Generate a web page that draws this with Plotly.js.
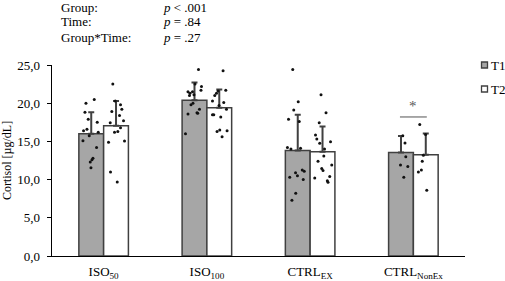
<!DOCTYPE html>
<html>
<head>
<meta charset="utf-8">
<script src="https://cdn.plot.ly/plotly-3.0.1.min.js"></script>
<style>html,body{margin:0;padding:0;background:#fff}#chart{width:505px;height:281px}</style>
</head>
<body>
<div id="chart"></div>
<script>
// ---- data ----
const categories = ['ISO<sub>50</sub>', 'ISO<sub>100</sub>', 'CTRL<sub>EX</sub>', 'CTRL<sub>NonEx</sub>'];
const seriesNames = ['T1', 'T2'];
const meanT1 = [16.0, 20.4, 13.8, 13.55];
const meanT2 = [17.05, 19.4, 13.65, 13.25];
const sdT1 = [2.8, 2.3, 4.7, 2.15];
const sdT2 = [3.25, 2.4, 3.3, 2.8];

// individual participant values
const ptsT1 = [
  [20.0, 20.5, 18.8, 17.9, 17.5, 16.6, 16.4, 15.75, 16.2, 15.1, 14.2, 12.8, 12.6, 12.3, 11.55],
  [24.4, 22.5, 22.2, 21.7, 21.5, 21.3, 21.5, 21.0, 21.1, 20.0, 19.8, 19.2, 18.75, 18.6, 18.7, 16.0],
  [24.4, 20.2, 19.1, 17.9, 17.6, 14.2, 14.0, 14.1, 11.25, 11.1, 10.9, 10.5, 10.3, 10.0, 8.2, 7.3],
  [15.75, 14.8, 13.0, 11.9, 11.7, 10.3]
];
const ptsT2 = [
  [22.5, 20.3, 19.8, 19.2, 18.9, 18.4, 17.7, 17.45, 16.8, 16.3, 16.2, 14.9, 15.05, 11.0, 9.7],
  [24.25, 21.7, 21.6, 21.3, 21.0, 20.3, 20.1, 19.7, 19.2, 18.5, 18.5, 18.2, 16.3, 16.5, 16.4, 15.6],
  [21.1, 18.75, 17.45, 15.85, 15.3, 14.95, 14.75, 14.0, 13.1, 12.4, 11.9, 11.45, 11.2, 10.2, 10.4, 9.85, 9.65],
  [17.2, 15.9, 13.2, 12.4, 11.25, 11.0, 8.6]
];

// horizontal jitter of the dots (px from bar centre) - layout only
const jitT1 = [
  [-5.3, 3, -6.3, -3, 6, -4.3, -7.7, -2, 7, -8.3, 5.3, 1.7, 0.7, -1, -0.3],
  [4, 0.5, 7, 6.5, -6.5, -4.5, -2, -5, -0.5, -1.5, -3.5, 5, 2.5, -6.5, 3.2, -9],
  [-5, 0.5, -4, -9.2, 1.5, -10.3, -6.8, 2.8, 4.5, 6.5, -2.2, -0.3, -8, 5.5, -2, -5.8],
  [1.8, 4, 4.8, -0.5, 6.8, 2.8]
];
const jitT2 = [
  [-3.2, -0.8, 4.5, 5.8, -4.2, 3.5, 7.5, -5.8, 4.5, 1.8, -1.5, -7.5, 8.5, -5.5, 1.2],
  [3.8, 6.5, -1.2, -2.8, -4.5, -6.8, 4.5, -0.2, 7.2, -6.8, -5.5, 1.5, -2.2, 0.5, 7.8, 2.8],
  [-1.5, 3.5, -3.3, -7, -5.7, 8, -2.8, 2, 1.3, -4.5, 9.2, -0.8, 0.5, -7.8, 7.2, 4.8, 5.5],
  [-6, -0.2, -2.4, -3.5, -4.4, -7.4, 1]
];

const statLabels = ['Group:', 'Time:', 'Group*Time:'];
const statValues = ['<i>p</i> &lt; .001', '<i>p</i> = .84', '<i>p</i> = .27'];

// ---- geometry ----
const W = 505, H = 281;
const M = {l: 52, r: 40, t: 65, b: 25};
const plotW = W - M.l - M.r, plotH = H - M.t - M.b;
const catPx = plotW / categories.length;
const px2x = px => (px - M.l) / plotW;
const px2y = py => (H - M.b - py) / plotH;
const idx = categories.map((_, i) => i);
const FONT = 'Liberation Serif, Times New Roman, serif';

function dots(pts, jit, side) {
  const x = [], y = [];
  pts.forEach((arr, g) => arr.forEach((v, k) => {
    x.push(g + side * 0.12 + jit[g][k] / catPx);
    y.push(v);
  }));
  return {type: 'scatter', mode: 'markers', x, y, showlegend: false, hoverinfo: 'y',
    marker: {color: '#111', size: 3}};
}

const errStyle = {type: 'data', symmetric: false, color: '#404040', thickness: 2, width: 3};
const traces = [
  {type: 'bar', name: seriesNames[0], x: idx, y: meanT1, showlegend: false,
   marker: {color: '#a6a6a6', line: {color: '#404040', width: 1.5}},
   error_y: Object.assign({array: sdT1, arrayminus: sdT1.map(() => 0)}, errStyle)},
  {type: 'bar', name: seriesNames[1], x: idx, y: meanT2, showlegend: false,
   marker: {color: '#ffffff', line: {color: '#404040', width: 1.5}},
   error_y: Object.assign({array: sdT2, arrayminus: sdT2.map(() => 0)}, errStyle)},
  dots(ptsT1, jitT1, -1),
  dots(ptsT2, jitT2, 1)
];

const annotations = [];
const statY = [7, 22, 37];
statLabels.forEach((t, i) => {
  annotations.push({xref: 'paper', yref: 'paper', x: px2x(59), y: px2y(statY[i]), text: t,
    showarrow: false, xanchor: 'left', yanchor: 'middle', font: {family: FONT, size: 13, color: '#000'}});
  annotations.push({xref: 'paper', yref: 'paper', x: px2x(161), y: px2y(statY[i]), text: statValues[i],
    showarrow: false, xanchor: 'left', yanchor: 'middle', font: {family: FONT, size: 13, color: '#000'}});
});
// significance asterisk
annotations.push({xref: 'x', yref: 'y', x: 3, y: 19.6, text: '*', showarrow: false,
  xanchor: 'center', yanchor: 'middle', font: {family: FONT, size: 15, color: '#595959'}});
// manual legend text
const legY = [65, 89];
seriesNames.forEach((n, i) => {
  annotations.push({xref: 'paper', yref: 'paper', x: px2x(489), y: px2y(legY[i]), text: n,
    showarrow: false, xanchor: 'left', yanchor: 'middle', font: {family: FONT, size: 13, color: '#000'}});
});

const shapes = [
  {type: 'line', xref: 'x', yref: 'y', x0: 3 - 0.13, x1: 3 + 0.13, y0: 18.2, y1: 18.2,
   line: {color: '#8c8c8c', width: 1.5}}
];
const legFill = ['#a6a6a6', '#ffffff'];
legY.forEach((yy, i) => {
  shapes.push({type: 'rect', xref: 'paper', yref: 'paper',
    x0: px2x(481.5), x1: px2x(487.5), y0: px2y(yy + 3), y1: px2y(yy - 3),
    fillcolor: legFill[i], line: {color: '#404040', width: 1.3}});
});

const layout = {
  width: W, height: H, margin: M,
  paper_bgcolor: '#fff', plot_bgcolor: '#fff',
  font: {family: FONT, size: 12, color: '#000'},
  separators: ', ',
  barmode: 'group', bargap: 0.52, bargroupgap: 0,
  showlegend: false,
  xaxis: {
    range: [-0.5, categories.length - 0.5], tickmode: 'array', tickvals: idx, ticktext: categories,
    showline: true, linecolor: '#000', linewidth: 1.3, ticks: '', showgrid: false, zeroline: false,
    ticklabelstandoff: 3,
    tickfont: {family: FONT, size: 13}, automargin: false, fixedrange: true
  },
  yaxis: {
    range: [0, 25], tickmode: 'linear', tick0: 0, dtick: 5, tickformat: '.1f',
    showline: true, linecolor: '#000', linewidth: 1.3, ticks: 'outside', ticklen: 4, tickcolor: '#000',
    showgrid: false, zeroline: false, ticklabelstandoff: 4,
    tickfont: {family: FONT, size: 13},
    title: {text: 'Cortisol [µg/dL]', font: {family: FONT, size: 12}, standoff: 5},
    automargin: false, fixedrange: true
  },
  annotations, shapes
};

Plotly.newPlot('chart', traces, layout, {displayModeBar: false, staticPlot: true});
</script>
</body>
</html>
